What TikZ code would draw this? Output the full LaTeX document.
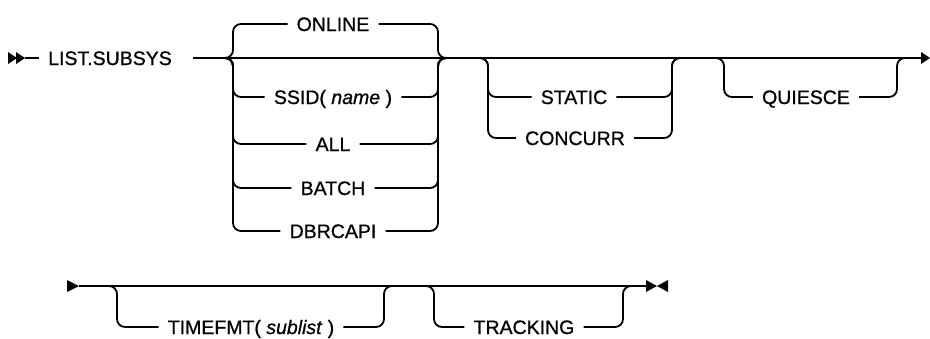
\documentclass[tikz,border=0pt]{standalone}
\usepackage{fontspec}
\setmainfont{Liberation Sans}
\newfontfamily\kwfont{Liberation Sans}[FakeBold=0.8]
\begin{document}
\begin{tikzpicture}[x=1pt,y=-1pt,
  rail/.style={line width=1.8pt, rounded corners=8pt},
  kw/.style={font=\kwfont\fontsize{19.5}{23}\selectfont, inner xsep=9pt, inner ysep=0pt,
             text height=14pt, text depth=0pt, anchor=center},
  tipmark/.style={fill=black}]
\useasboundingbox (0,0) rectangle (930,338);

% ---------- row 1 ----------
\coordinate (s1) at (25,58);
\fill[tipmark] (8,52) -- (17,58) -- (8,64) -- cycle;
\fill[tipmark] (16,52) -- (25,58) -- (16,64) -- cycle;
\node[kw] (list) at (110,58) {LIST.SUBSYS};
\draw[rail] (s1) -- (list.west);
\coordinate (m0) at (193,58);
\coordinate (e1) at (922,58);
\draw[rail] (m0) -- (e1);
\fill[tipmark] (921,52) -- (930,58) -- (921,64) -- cycle;

% group 1
\coordinate (g1l) at (224,58);
\coordinate (g1r) at (446,58);
\node[kw] (online) at (333,24) {ONLINE};
\node[kw] (ssid) at (333,97) {SSID( \textit{name} )};
\node[kw] (all) at (333,144) {ALL};
\node[kw] (batch) at (333,188) {BATCH};
\node[kw] (dbrc) at (333,231) {DBRCAPI};
\foreach \n in {online,ssid,all,batch,dbrc}{
  \draw[rail] (g1l) -- ++(9,0) |- (\n.west);
  \draw[rail] (\n.east) -| ([xshift=-8pt]g1r) -- (g1r);
}

% group 2
\coordinate (g2l) at (480,58);
\coordinate (g2r) at (680,58);
\node[kw] (static) at (574,97) {STATIC};
\node[kw] (concurr) at (575,138) {CONCURR};
\foreach \n in {static,concurr}{
  \draw[rail] (g2l) -- ++(8,0) |- (\n.west);
  \draw[rail] (\n.east) -| ([xshift=-8pt]g2r) -- (g2r);
}

% group 3
\coordinate (g3l) at (716,58);
\coordinate (g3r) at (905,58);
\node[kw] (quiesce) at (806,97) {QUIESCE};
\draw[rail] (g3l) -- ++(8,0) |- (quiesce.west);
\draw[rail] (quiesce.east) -| ([xshift=-8pt]g3r) -- (g3r);

% ---------- row 2 ----------
\coordinate (s2) at (79,286);
\coordinate (e2) at (646,286);
\fill[tipmark] (67,280) -- (79,286) -- (67,292) -- cycle;
\draw[rail] (s2) -- (e2);
\fill[tipmark] (646,280) -- (657,286) -- (646,292) -- cycle;
\fill[tipmark] (668,280) -- (657,286) -- (668,292) -- cycle;

\coordinate (g4l) at (109,286);
\coordinate (g4r) at (392,286);
\node[kw] (timefmt) at (251,327) {TIMEFMT( \textit{sublist} )};
\draw[rail] (g4l) -- ++(8,0) |- (timefmt.west);
\draw[rail] (timefmt.east) -| ([xshift=-8pt]g4r) -- (g4r);

\coordinate (g5l) at (426,286);
\coordinate (g5r) at (631,286);
\node[kw] (tracking) at (524,327) {TRACKING};
\draw[rail] (g5l) -- ++(8,0) |- (tracking.west);
\draw[rail] (tracking.east) -| ([xshift=-8pt]g5r) -- (g5r);
\end{tikzpicture}
\end{document}
